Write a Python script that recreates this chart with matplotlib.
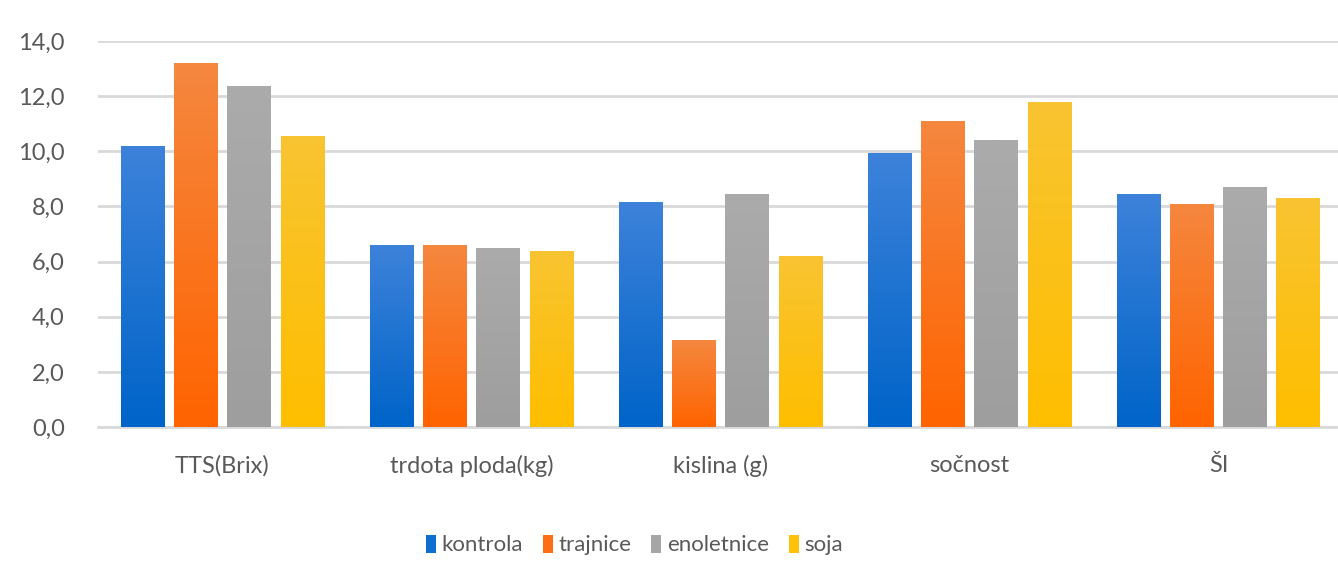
import numpy as np
import matplotlib
matplotlib.use("Agg")
import matplotlib.pyplot as plt
from matplotlib.colors import LinearSegmentedColormap

categories = ["TTS(Brix)", "trdota ploda(kg)", "kislina (g)", "sočnost", "ŠI"]
series_names = ["kontrola", "trajnice", "enoletnice", "soja"]
kontrola = [10.2, 6.6, 8.15, 9.95, 8.45]
trajnice = [13.2, 6.6, 3.15, 11.1, 8.1]
enoletnice = [12.35, 6.5, 8.45, 10.4, 8.7]
soja = [10.55, 6.4, 6.2, 11.8, 8.3]
yticks = [0, 2, 4, 6, 8, 10, 12, 14]
ytick_labels = ["0,0", "2,0", "4,0", "6,0", "8,0", "10,0", "12,0", "14,0"]

colors = ["#0F6FD0", "#FF6E14", "#A5A5A5", "#FFC20A"]
tops = ["#3D82DA", "#F5873F", "#ABABAB", "#F8C431"]
bottoms = ["#0064C8", "#FF6400", "#9E9E9E", "#FFBE00"]

plt.rcParams['font.family'] = ['Lato', 'DejaVu Sans']

fig = plt.figure(figsize=(13.38, 5.83), dpi=100)
ax = fig.add_axes([98/1338, 1-427/583, 1-98/1338, (427-41)/583])

data = [kontrola, trajnice, enoletnice, soja]
x = np.arange(len(categories))
step = 0.213
width = 0.173
for i, vals in enumerate(data):
    offs = (i - 1.5) * step
    bars = ax.bar(x + offs, vals, width=width, color=colors[i], label=series_names[i], zorder=3)
    cmap = LinearSegmentedColormap.from_list("g%d" % i, [bottoms[i], tops[i]])
    grad = np.linspace(0, 1, 100).reshape(-1, 1)
    for b in bars:
        bx, by = b.get_x(), b.get_y()
        bw, bh = b.get_width(), b.get_height()
        im = ax.imshow(grad, cmap=cmap, aspect='auto', origin='lower',
                       extent=[bx, bx + bw, by, by + bh], zorder=4)
        im.set_clip_path(b)

ax.set_xlim(-0.5, 4.48)
ax.set_ylim(0, 14)
ax.set_yticks(yticks)
ax.set_yticklabels(ytick_labels)
ax.set_xticks(x)
ax.set_xticklabels(categories)
ax.grid(axis='y', color='#D9D9D9', linewidth=2, zorder=0)
ax.set_axisbelow(True)
for s in ["top", "right", "left"]:
    ax.spines[s].set_visible(False)
ax.spines["bottom"].set_color("#D9D9D9")
ax.spines["bottom"].set_linewidth(2)
ax.tick_params(axis='both', length=0, labelsize=17, colors='#595959')
ax.tick_params(axis='y', pad=24)
ax.tick_params(axis='x', pad=20)

leg = fig.legend(loc='center', bbox_to_anchor=(0.474, 1-545/583), ncol=4, frameon=False,
                 fontsize=16, handlelength=0.45, handleheight=0.9, handletextpad=0.25,
                 columnspacing=0.9, labelcolor='#595959')

fig.savefig("out.png", dpi=100, facecolor="white")
